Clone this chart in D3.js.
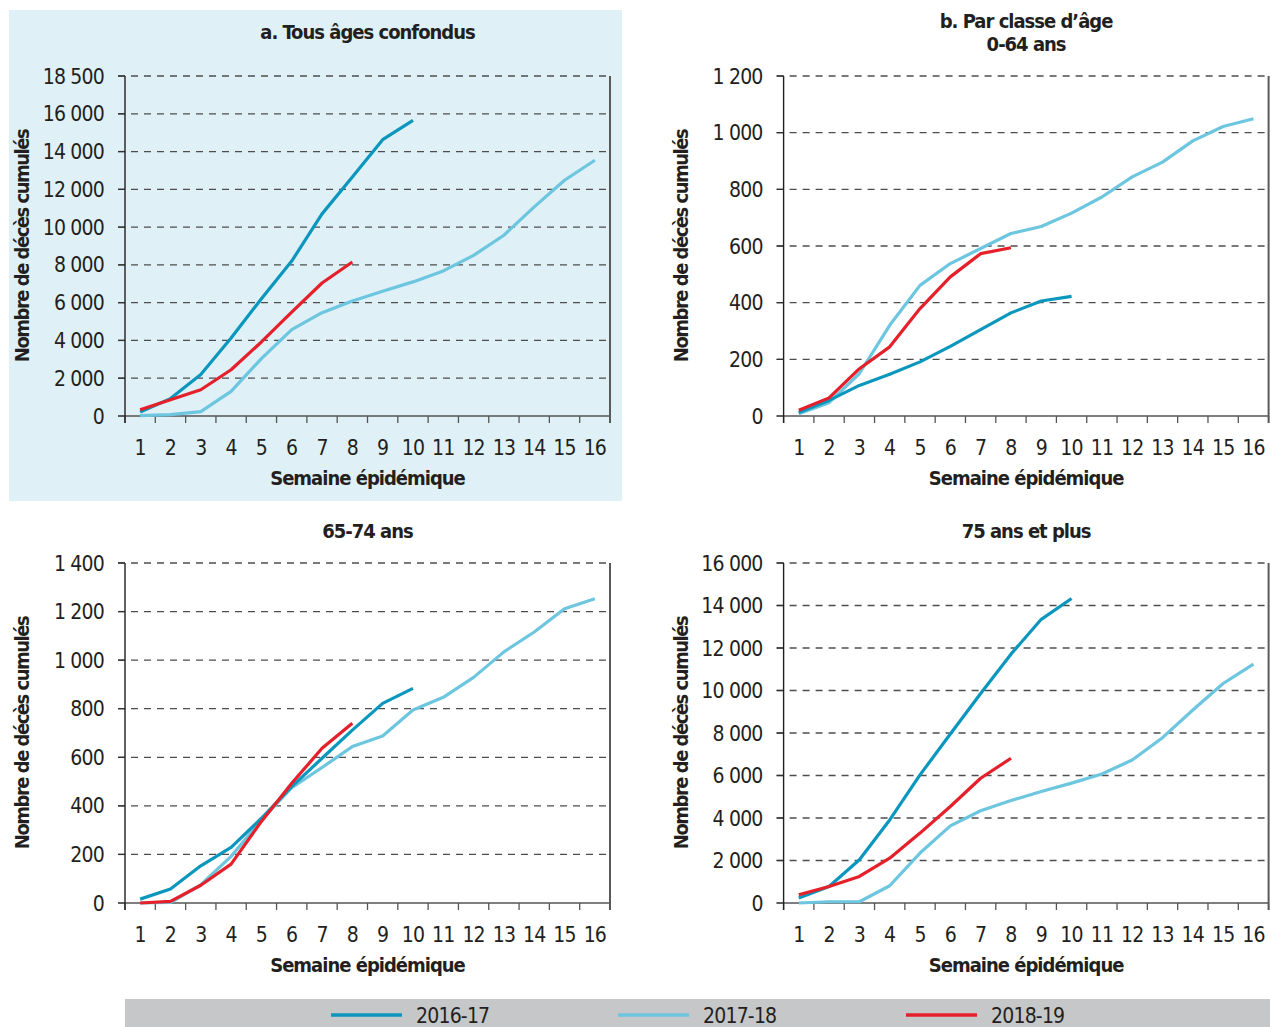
<!DOCTYPE html>
<html>
<head>
<meta charset="utf-8">
<script src="https://cdn.jsdelivr.net/npm/d3@7"></script>
<style>
  body { margin: 0; background: #fff; }
  text { font-family: "Liberation Sans Narrow", "DejaVu Sans Condensed", "Roboto", sans-serif; fill: #231f20; }
</style>
</head>
<body>
<script>
// chart values
var weeks = d3.range(1, 17);
var seasons = ["2016-17", "2017-18", "2018-19"];
var seasonColors = ["#0b97bd", "#6cc6df", "#e5202a"];

// a. tous ages
var allAges1617 = [210, 920, 2200, 4130, 6210, 8200, 10700, 12650, 14630, 15650];
var allAges1718 = [20, 70, 230, 1300, 3040, 4570, 5470, 6090, 6600, 7100, 7680, 8500, 9570, 11070, 12480, 13540];
var allAges1819 = [330, 860, 1390, 2450, 3920, 5500, 7040, 8150];
var allAgesTicks = [0, 2000, 4000, 6000, 8000, 10000, 12000, 14000, 16000, 18000];
var allAgesTickLabels = ["0", "2 000", "4 000", "6 000", "8 000", "10 000", "12 000", "14 000", "16 000", "18 500"];

// b. 0-64 ans
var age064_1617 = [12, 55, 108, 147, 191, 246, 305, 364, 406, 422];
var age064_1718 = [8, 47, 150, 320, 461, 538, 591, 644, 669, 716, 773, 844, 896, 971, 1022, 1049];
var age064_1819 = [20, 64, 167, 244, 379, 491, 573, 594];
var age064Ticks = [0, 200, 400, 600, 800, 1000, 1200];
var age064TickLabels = ["0", "200", "400", "600", "800", "1 000", "1 200"];

// 65-74 ans
var age6574_1617 = [16, 58, 153, 229, 349, 479, 596, 712, 822, 884];
var age6574_1718 = [0, 2, 75, 192, 342, 475, 558, 644, 688, 795, 847, 929, 1034, 1116, 1212, 1253];
var age6574_1819 = [0, 7, 73, 160, 336, 493, 637, 740];
var age6574Ticks = [0, 200, 400, 600, 800, 1000, 1200, 1400];
var age6574TickLabels = ["0", "200", "400", "600", "800", "1 000", "1 200", "1 400"];

// 75 ans et plus
var age75_1617 = [235, 780, 2035, 3910, 6030, 7950, 9860, 11710, 13350, 14330];
var age75_1718 = [0, 60, 60, 810, 2350, 3630, 4340, 4820, 5250, 5640, 6070, 6730, 7780, 9080, 10330, 11240];
var age75_1819 = [390, 780, 1250, 2110, 3290, 4540, 5870, 6810];
var age75Ticks = [0, 2000, 4000, 6000, 8000, 10000, 12000, 14000, 16000];
var age75TickLabels = ["0", "2 000", "4 000", "6 000", "8 000", "10 000", "12 000", "14 000", "16 000"];

var width = 1270;
var height = 1027;

var svg = d3.select("body")
  .append("svg")
  .attr("width", width)
  .attr("height", height);

// highlighted background for panel a
svg.append("rect")
  .attr("x", 9).attr("y", 10)
  .attr("width", 613).attr("height", 491)
  .attr("fill", "#dff0f7");

var panels = [
  { title: ["a. Tous âges confondus"], left: 125, top: 76, series: [allAges1617, allAges1718, allAges1819],
    ticks: allAgesTicks, labels: allAgesTickLabels, titleY: 32 },
  { title: ["b. Par classe d’âge", "0-64 ans"], left: 783.6, top: 76, series: [age064_1617, age064_1718, age064_1819],
    ticks: age064Ticks, labels: age064TickLabels, titleY: 21 },
  { title: ["65-74 ans"], left: 125, top: 563, series: [age6574_1617, age6574_1718, age6574_1819],
    ticks: age6574Ticks, labels: age6574TickLabels, titleY: 531 },
  { title: ["75 ans et plus"], left: 783.6, top: 563, series: [age75_1617, age75_1718, age75_1819],
    ticks: age75Ticks, labels: age75TickLabels, titleY: 531 }
];

var plotW = 485;
var plotH = 340;

panels.forEach(function(p) {
  var g = svg.append("g")
    .attr("transform", `translate(${p.left}, ${p.top})`);

  var x = d3.scaleBand().domain(weeks).range([0, plotW]);
  var y = d3.scaleLinear().domain([0, d3.max(p.ticks)]).range([plotH, 0]);

  // dashed gridlines
  g.selectAll(".grid")
    .data(p.ticks.slice(1))
    .enter().append("line")
    .attr("x1", -7).attr("x2", plotW)
    .attr("y1", d => y(d)).attr("y2", d => y(d))
    .attr("stroke", "#4d4d4d")
    .attr("stroke-width", 1.3)
    .attr("stroke-dasharray", "7,6");

  // little ticks on the y axis
  g.selectAll(".ytick")
    .data(p.ticks)
    .enter().append("line")
    .attr("x1", -7).attr("x2", 0)
    .attr("y1", d => y(d)).attr("y2", d => y(d))
    .attr("stroke", "#333").attr("stroke-width", 1.3);

  // x axis
  g.append("line")
    .attr("x1", -7).attr("x2", plotW)
    .attr("y1", plotH).attr("y2", plotH)
    .attr("stroke", "#555").attr("stroke-width", 1.5);

  g.selectAll(".xtick")
    .data(weeks.concat([17]))
    .enter().append("line")
    .attr("x1", d => d === 17 ? plotW : x(d))
    .attr("x2", d => d === 17 ? plotW : x(d))
    .attr("y1", plotH).attr("y2", plotH + 7)
    .attr("stroke", "#555").attr("stroke-width", 1.3);

  // y axis
  g.append("line")
    .attr("x1", 0).attr("x2", 0)
    .attr("y1", 0).attr("y2", plotH + 7)
    .attr("stroke", "#231f20").attr("stroke-width", 1.4);

  // right border
  g.append("line")
    .attr("x1", plotW).attr("x2", plotW)
    .attr("y1", 0).attr("y2", plotH + 7)
    .attr("stroke", "#5a5a5a").attr("stroke-width", 2);

  // tick labels
  g.selectAll(".ylabel")
    .data(p.ticks)
    .enter().append("text")
    .attr("x", -21)
    .attr("y", d => y(d))
    .attr("dy", "0.36em")
    .attr("text-anchor", "end")
    .attr("font-size", 21)
    .attr("letter-spacing", -0.8)
    .text((d, i) => p.labels[i]);

  g.selectAll(".xlabel")
    .data(weeks)
    .enter().append("text")
    .attr("x", d => x(d) + x.bandwidth() / 2)
    .attr("y", plotH + 31)
    .attr("dy", "0.36em")
    .attr("text-anchor", "middle")
    .attr("font-size", 21)
    .attr("letter-spacing", -0.8)
    .text(d => d);

  // axis titles
  g.append("text")
    .attr("x", plotW / 2)
    .attr("y", plotH + 62)
    .attr("dy", "0.36em")
    .attr("text-anchor", "middle")
    .attr("font-size", 20)
    .attr("font-weight", "bold")
    .attr("letter-spacing", -1)
    .text("Semaine épidémique");

  g.append("text")
    .attr("transform", `translate(-103, ${plotH / 2}) rotate(-90)`)
    .attr("dy", "0.36em")
    .attr("text-anchor", "middle")
    .attr("font-size", 20)
    .attr("font-weight", "bold")
    .attr("letter-spacing", -1.5)
    .text("Nombre de décès cumulés");

  // panel title
  p.title.forEach(function(t, i) {
    svg.append("text")
      .attr("x", p.left + plotW / 2)
      .attr("y", p.titleY + i * 23)
      .attr("dy", "0.36em")
      .attr("text-anchor", "middle")
      .attr("font-size", 20)
      .attr("font-weight", "bold")
      .attr("letter-spacing", -1)
      .text(t);
  });

  // the season lines
  var line = d3.line()
    .x((d, i) => x(weeks[i]) + x.bandwidth() / 2)
    .y(d => y(d));

  // draw light first, then dark, then red on top
  [1, 0, 2].forEach(function(s) {
    g.append("path")
      .datum(p.series[s])
      .attr("d", line)
      .attr("fill", "none")
      .attr("stroke", seasonColors[s])
      .attr("stroke-width", 3.2)
      .attr("stroke-linejoin", "round");
  });
});

// legend bar
var legend = svg.append("g");
legend.append("rect")
  .attr("x", 125).attr("y", 999)
  .attr("width", 1145).attr("height", 28)
  .attr("fill", "#c6c7c9");

var legendX = [331, 618, 906];
seasons.forEach(function(s, i) {
  legend.append("line")
    .attr("x1", legendX[i]).attr("x2", legendX[i] + 71)
    .attr("y1", 1015).attr("y2", 1015)
    .attr("stroke", seasonColors[i])
    .attr("stroke-width", 3.5);
  legend.append("text")
    .attr("x", legendX[i] + 85)
    .attr("y", 1015)
    .attr("dy", "0.36em")
    .attr("font-size", 21)
    .attr("letter-spacing", -0.8)
    .text(s);
});
</script>
</body>
</html>
